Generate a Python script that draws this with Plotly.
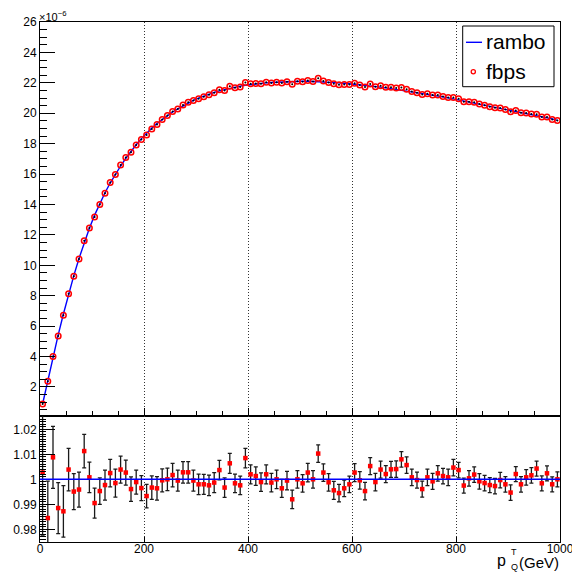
import plotly.graph_objects as go

# ---------------- data ----------------
bin_centers = [5 + 10 * i for i in range(100)]  # GeV, 10 GeV bins 0..1000

# rambo distribution (units of 1e-6)
rambo = [
    0.88, 2.42, 3.97, 5.42, 6.80, 8.10, 9.32, 10.45, 11.48, 12.44,
    13.30, 14.07, 14.77, 15.41, 16.00, 16.53, 17.04, 17.50, 17.93, 18.33,
    18.70, 19.03, 19.33, 19.60, 19.85, 20.08, 20.29, 20.49, 20.67, 20.84,
    20.99, 21.13, 21.26, 21.37, 21.47, 21.56, 21.64, 21.71, 21.78, 21.84,
    21.89, 21.93, 21.97, 22.00, 22.02, 22.04, 22.06, 22.08, 22.09, 22.10,
    22.10, 22.10, 22.09, 22.08, 22.06, 22.05, 22.03, 22.00, 21.97, 21.94,
    21.91, 21.87, 21.83, 21.80, 21.76, 21.72, 21.67, 21.62, 21.57, 21.52,
    21.46, 21.41, 21.36, 21.31, 21.26, 21.21, 21.15, 21.08, 21.01, 20.94,
    20.87, 20.81, 20.75, 20.68, 20.62, 20.55, 20.48, 20.42, 20.35, 20.28,
    20.21, 20.14, 20.07, 20.00, 19.92, 19.85, 19.78, 19.70, 19.63, 19.53,
]

# ratio fbps / rambo
ratio = [
    1.0027, 0.9845, 1.0088, 0.9885, 0.9872, 1.0039, 0.9951, 0.9959, 1.0113, 1.0008,
    0.9905, 0.9953, 0.9977, 1.0025, 0.9985, 1.0039, 1.0027, 0.9961, 0.9989, 0.9965,
    0.9933, 0.9967, 0.9964, 0.9996, 1.0000, 1.0017, 0.9995, 1.0028, 1.0028, 0.9995,
    0.9980, 0.9980, 0.9976, 0.9987, 1.0037, 0.9967, 1.0064, 0.9984, 0.9976, 1.0085,
    1.0020, 1.0013, 0.9989, 1.0020, 0.9987, 1.0000, 0.9964, 0.9995, 0.9920, 1.0000,
    0.9984, 1.0027, 1.0000, 1.0103, 1.0027, 0.9988, 0.9956, 0.9945, 0.9964, 0.9980,
    1.0027, 0.9996, 0.9953, 1.0053, 0.9989, 1.0039, 1.0021, 1.0040, 1.0041, 1.0080,
    1.0057, 1.0008, 0.9997, 0.9961, 1.0008, 0.9992, 1.0024, 1.0013, 1.0008, 1.0047,
    1.0037, 0.9975, 1.0004, 1.0019, 0.9992, 0.9985, 0.9977, 0.9973, 0.9997, 0.9980,
    0.9947, 1.0021, 0.9980, 1.0008, 1.0016, 1.0043, 0.9984, 1.0024, 0.9980, 1.0000,
]

ratio_err = [
    0.0250, 0.0148, 0.0124, 0.0102, 0.0103, 0.0085, 0.0072, 0.0070, 0.0067, 0.0061,
    0.0060, 0.0053, 0.0060, 0.0055, 0.0056, 0.0054, 0.0050, 0.0049, 0.0048, 0.0050,
    0.0047, 0.0047, 0.0047, 0.0046, 0.0045, 0.0047, 0.0042, 0.0043, 0.0043, 0.0042,
    0.0041, 0.0040, 0.0041, 0.0040, 0.0039, 0.0039, 0.0040, 0.0037, 0.0037, 0.0039,
    0.0038, 0.0037, 0.0037, 0.0038, 0.0037, 0.0037, 0.0036, 0.0037, 0.0037, 0.0035,
    0.0035, 0.0037, 0.0035, 0.0035, 0.0035, 0.0035, 0.0036, 0.0035, 0.0033, 0.0033,
    0.0036, 0.0035, 0.0035, 0.0034, 0.0035, 0.0034, 0.0034, 0.0032, 0.0033, 0.0031,
    0.0033, 0.0033, 0.0032, 0.0032, 0.0033, 0.0032, 0.0031, 0.0031, 0.0033, 0.0033,
    0.0031, 0.0030, 0.0031, 0.0031, 0.0031, 0.0031, 0.0030, 0.0031, 0.0031, 0.0031,
    0.0031, 0.0030, 0.0031, 0.0031, 0.0031, 0.0030, 0.0030, 0.0030, 0.0030, 0.0030,
]

fbps = [r * q for r, q in zip(rambo, ratio)]

x_ticks = [0, 200, 400, 600, 800, 1000]
y_top_ticks = [2, 4, 6, 8, 10, 12, 14, 16, 18, 20, 22, 24, 26]
y_bot_ticks = [0.98, 0.99, 1.0, 1.01, 1.02]
y_bot_labels = ["0.98", "0.99", "1", "1.01", "1.02"]

# ---------------- figure ----------------
W, H = 572, 574
ML, MR, MT, MB = 40, 12, 22, 32
PH = H - MT - MB
split = (542 - 416) / PH

FONT = "Liberation Sans, Arial, Helvetica, sans-serif"
DOT = "1px,2px"

fig = go.Figure()

# top panel
fig.add_trace(go.Scatter(
    x=bin_centers, y=rambo, mode="lines", name="rambo",
    line=dict(color="#0000ff", width=1.4), xaxis="x", yaxis="y",
    showlegend=False,
))
fig.add_trace(go.Scatter(
    x=bin_centers, y=fbps, mode="markers", name="fbps",
    marker=dict(symbol="circle-open", size=5.5, color="#ff0000",
                line=dict(color="#ff0000", width=1.5)),
    xaxis="x", yaxis="y", showlegend=False,
))
fig.add_trace(go.Scatter(
    x=bin_centers, y=fbps, mode="markers",
    marker=dict(symbol="circle", size=2, color="#000000"),
    xaxis="x", yaxis="y", showlegend=False, hoverinfo="skip",
))

# bottom panel: ratio
fig.add_shape(type="line", xref="x2", yref="y2", x0=0, x1=1000, y0=1, y1=1,
              line=dict(color="#0000ff", width=1.4))
fig.add_trace(go.Scatter(
    x=bin_centers, y=ratio, mode="markers",
    marker=dict(symbol="square", size=4.5, color="#ff0000"),
    error_y=dict(type="data", array=ratio_err, visible=True,
                 color="#1a1a1a", thickness=1.3, width=2),
    xaxis="x2", yaxis="y2", showlegend=False,
))

axis_common = dict(
    showline=True, mirror=True, linecolor="black", linewidth=1,
    zeroline=False, ticks="inside", tickcolor="black", automargin=False,
    tickfont=dict(family=FONT, size=12, color="black"),
)

fig.update_layout(
    width=W, height=H,
    margin=dict(l=ML, r=MR, t=MT, b=MB, autoexpand=False),
    paper_bgcolor="white", plot_bgcolor="white",
    font=dict(family=FONT, color="black"),
    xaxis=dict(
        domain=[0, 1], anchor="y", range=[0, 1000],
        tickvals=x_ticks, showticklabels=False, ticklen=8,
        showgrid=True, gridcolor="#333333", griddash=DOT, gridwidth=1,
        minor=dict(dtick=50, ticklen=5, ticks="inside", tickcolor="black", showgrid=False),
        **axis_common,
    ),
    yaxis=dict(
        domain=[split, 1], anchor="x", range=[0.09, 26],
        tickvals=y_top_ticks, ticklen=15, showgrid=False,
        minor=dict(dtick=0.5, ticklen=7, ticks="inside", tickcolor="black"),
        **axis_common,
    ),
    xaxis2=dict(
        domain=[0, 1], anchor="y2", range=[0, 1000],
        tickvals=x_ticks, ticktext=[str(v) for v in x_ticks], ticklen=5,
        ticklabeloverflow="allow", ticklabelstandoff=-4,
        showgrid=True, gridcolor="#333333", griddash=DOT, gridwidth=1,
        **axis_common,
    ),
    yaxis2=dict(
        domain=[0, split], anchor="x2", range=[0.97492, 1.02533],
        tickvals=y_bot_ticks, ticktext=y_bot_labels, ticklen=15, showgrid=False,
        minor=dict(dtick=0.001, ticklen=6, ticks="inside", tickcolor="black"),
        **axis_common,
    ),
)


def px_x(px):
    return (px - ML) / (W - ML - MR)


def px_y(py):
    return (H - MB - py) / PH


ann = []
# exponent label
ann.append(dict(text="×10<sup>−6</sup>", x=px_x(37), y=px_y(16), xref="paper", yref="paper",
                xanchor="left", yanchor="middle", showarrow=False,
                font=dict(family=FONT, size=11, color="black")))
# x-axis title: p_Q^T (GeV)
ann.append(dict(text="(GeV)", x=px_x(561), y=px_y(562), xref="paper", yref="paper",
                xanchor="right", yanchor="middle", showarrow=False,
                font=dict(family=FONT, size=15, color="black")))
ann.append(dict(text="p", x=px_x(508), y=px_y(560), xref="paper", yref="paper",
                xanchor="right", yanchor="middle", showarrow=False,
                font=dict(family=FONT, size=16, color="black")))
ann.append(dict(text="T", x=px_x(508.5), y=px_y(552), xref="paper", yref="paper",
                xanchor="left", yanchor="middle", showarrow=False,
                font=dict(family=FONT, size=9, color="black")))
ann.append(dict(text="Q", x=px_x(508.5), y=px_y(566.5), xref="paper", yref="paper",
                xanchor="left", yanchor="middle", showarrow=False,
                font=dict(family=FONT, size=9, color="black")))
# manual legend
ann.append(dict(text="rambo", x=px_x(484), y=px_y(42), xref="paper", yref="paper",
                xanchor="left", yanchor="middle", showarrow=False,
                font=dict(family=FONT, size=21, color="black")))
ann.append(dict(text="fbps", x=px_x(484), y=px_y(71.5), xref="paper", yref="paper",
                xanchor="left", yanchor="middle", showarrow=False,
                font=dict(family=FONT, size=21, color="black")))
fig.update_layout(annotations=ann)

fig.add_shape(type="rect", xref="paper", yref="paper",
              x0=px_x(462.7), x1=px_x(554), y0=px_y(26), y1=px_y(86.7),
              line=dict(color="black", width=1), fillcolor="white", layer="above")
fig.add_shape(type="line", xref="paper", yref="paper",
              x0=px_x(466), x1=px_x(482), y0=px_y(42.3), y1=px_y(42.3),
              line=dict(color="#0000ff", width=1.4), layer="above")
fig.add_shape(type="circle", xref="paper", yref="paper",
              x0=px_x(471.2), x1=px_x(475.4), y0=px_y(69.6), y1=px_y(73.8),
              line=dict(color="#ff0000", width=1.3), layer="above")

fig.write_html(
    "out.html",
    config={"displayModeBar": False},
    post_script="document.body.style.margin='0';document.body.style.padding='0';",
)
